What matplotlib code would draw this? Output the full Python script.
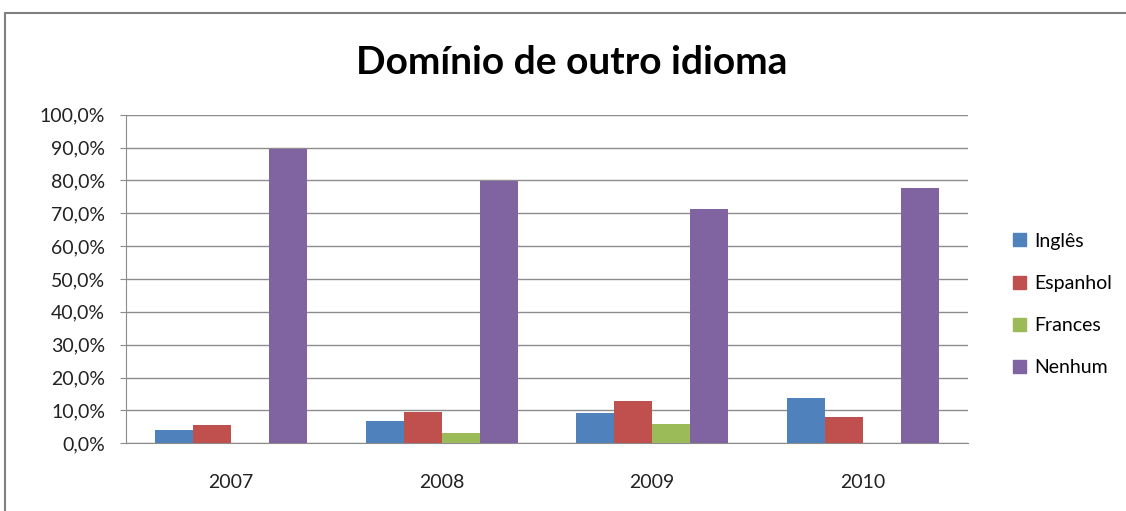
import matplotlib.pyplot as plt
from matplotlib.patches import Rectangle, Patch
from matplotlib.ticker import FuncFormatter, MultipleLocator

# dados (percentagens)
anos = ['2007', '2008', '2009', '2010']
series = ['Inglês', 'Espanhol', 'Frances', 'Nenhum']
ingles = [4.0, 6.8, 9.3, 13.8]
espanhol = [5.5, 9.6, 12.8, 7.9]
frances = [0.0, 3.0, 5.9, 0.0]
nenhum = [89.7, 79.9, 71.4, 77.7]
cores = ['#4F81BD', '#C0504D', '#9BBB59', '#8064A2']

plt.rcParams['font.family'] = ['Lato', 'DejaVu Sans']

fig = plt.figure(figsize=(11.26, 5.11), dpi=100)
ax = fig.add_axes([0.1119, 0.1325, 0.7478, 0.643])

valores = [ingles, espanhol, frances, nenhum]
w = 0.18
x = list(range(len(anos)))
for i, (nome, vals) in enumerate(zip(series, valores)):
  pos = [xx + (i - 1.5) * w for xx in x]
  ax.bar(pos, vals, width=w, color=cores[i], label=nome, zorder=3)

ax.set_xlim(-0.5, len(anos) - 0.5)
ax.set_ylim(0, 100)
ax.yaxis.set_major_locator(MultipleLocator(10))
ax.yaxis.set_major_formatter(FuncFormatter(lambda v, p: f'{v:.1f}%'.replace('.', ',')))
ax.set_xticks(x)
ax.set_xticklabels(anos)
ax.grid(axis='y', color='#8c8c8c', linewidth=1, zorder=0)
for s in ['top', 'right']:
  ax.spines[s].set_visible(False)
for s in ['left', 'bottom']:
  ax.spines[s].set_color('#8c8c8c')
ax.tick_params(axis='y', length=4, color='#8c8c8c', pad=11, labelsize=14, labelcolor='#222222')
ax.tick_params(axis='x', length=0, pad=22, labelsize=14, labelcolor='#222222')

fig.text(0.508, 0.878, 'Domínio de outro idioma', ha='center', va='center',
         fontsize=28, fontweight='bold')

handles = [Patch(color=c, label=n) for c, n in zip(cores, series)]
fig.legend(handles=handles, loc='center left', bbox_to_anchor=(0.884, 0.404),
           frameon=False, fontsize=14, handlelength=0.65, handleheight=0.65,
           handletextpad=0.45, labelspacing=1.3)

# borda do grafico (cortada na direita e embaixo)
fig.patches.append(Rectangle((5 / 1126, -0.2), 2, (511 - 13) / 511 + 0.2,
                             transform=fig.transFigure, fill=False,
                             edgecolor='#808080', linewidth=1.5))

plt.savefig('out.png')
plt.close()
